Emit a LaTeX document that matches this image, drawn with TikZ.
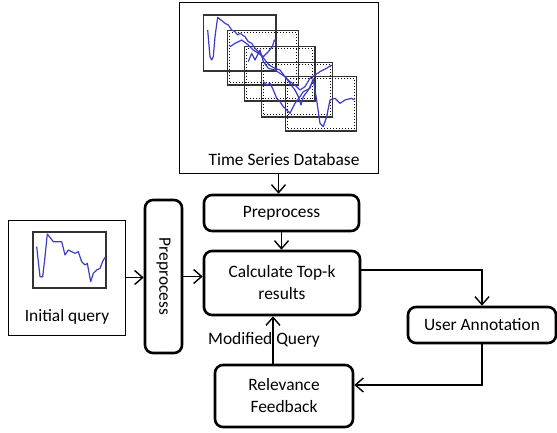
\documentclass[tikz,border=0pt]{standalone}
\usepackage{fontspec}
\setmainfont{Carlito}
\usepackage{graphicx}
\usetikzlibrary{arrows.meta}

\definecolor{seriesblue}{RGB}{60,60,200}

\tikzset{
  box/.style={draw, line width=2.6pt, rounded corners=8pt, align=center, inner sep=2pt},
  frame/.style={draw, line width=1pt},
  arr/.style={line width=1.4pt, -{Straight Barb[length=8pt, width=14pt]}},
  chart/.style={draw, black!80, line width=1.4pt},
  curve/.style={seriesblue, line width=1.2pt, line join=round},
}

\begin{document}
\begin{tikzpicture}[x=1pt, y=-1pt, font=\fontsize{17.4}{22}\selectfont]

	\useasboundingbox (0,0) rectangle (557,432);

	% database
	\node[frame, minimum width=199pt, minimum height=171pt] (db) at (278.5,87.5) {};
	\node (dbtext) at (284,160) {Time Series Database};
	\begin{scope}[shift={(195pt,-10pt)}, x=0.3333pt, y=-0.3333pt]
	    \draw[chart] (25,15) rectangle (243,183);
	    \foreach \x/\y in {98/62, 148/110, 200/158, 272/200} {
	        \draw[chart] (\x,\y) rectangle ++(212,163);
	        \draw[dotted, line width=1pt] (\x+6,\y+6) rectangle ++(200,151);
	    }
	    \draw[curve] (38,60)--(45,140)--(50,150)--(55,140)--(60,80)--(68,22)--(78,30)--(90,40)--(100,45)--(110,60)--(120,65)--(128,75)--(135,70)--(150,80)--(160,95)--(170,100)--(180,115)--(195,130)--(210,150)--(222,165)--(240,175)--(255,180)--(270,200)--(285,220)--(300,240)--(310,260)--(318,285)--(325,260)--(340,240)--(355,210)--(365,270)--(375,340)--(385,350)--(395,320)--(405,270)--(420,265)--(435,280)--(450,270)--(470,265)--(478,270);
	    \draw[curve] (105,110)--(120,100)--(140,90)--(160,105)--(175,120)--(190,130)--(205,140)--(220,125)--(232,110)--(238,90)--(243,95);
	    \draw[curve] (160,155)--(170,130)--(180,150)--(195,120)--(205,155)--(220,175)--(240,180)--(255,190)--(270,200)--(285,215)--(300,225)--(315,240)--(330,230)--(345,205)--(360,195)--(375,185)--(395,175)--(410,165);
	    \draw[curve] (205,215)--(215,225)--(225,220)--(235,240)--(245,265)--(255,275)--(265,290)--(285,310)--(300,280)--(315,260)--(325,245)--(345,235)--(355,205);
	\end{scope}

	% initial query
	\node[frame, minimum width=117pt, minimum height=115pt] (iq) at (66.5,277.5) {};
	\node (iqtext) at (67,317) {Initial query};
	\draw[chart] (33,232) rectangle (106,288);
	\draw[curve] (36.7,246.7)--(40,276.7)--(42.7,276.7)--(45,256.7)--(47.3,234)--(53.3,241.7)--(61.7,241.7)--(65,255)--(68.3,250)--(71.7,251.7)--(75,253.3)--(78.3,251.7)--(81.7,261.7)--(85,265)--(87.3,263.3)--(90.7,281.7)--(93.3,273.3)--(96.7,270)--(100,268.3)--(103.3,260)--(105.3,257.3);

	% boxes
	\node[box, minimum width=155pt, minimum height=36pt] (pre1) at (281.5,213) {Preprocess};
	\node[box, minimum width=37pt, minimum height=153pt] (pre2) at (163.5,276.5) {\rotatebox{-90}{Preprocess}};
	\node[box, minimum width=156pt, minimum height=64pt] (calc) at (282,283) {Calculate Top-k\\results};
	\node[box, minimum width=148pt, minimum height=36pt] (ua) at (482,325) {User Annotation};
	\node[box, minimum width=138pt, minimum height=62pt] (rf) at (284,396) {Relevance\\Feedback};

	% connectors
	\draw[arr] (db.south) -- (db.south |- pre1.north);
	\draw[arr] (pre1.south) -- (pre1.south |- calc.north);
	\draw[arr] (iq.east) -- (iq.east -| pre2.west);
	\draw[arr] (pre2.east) -- (pre2.east -| calc.west);
	\draw[arr] ([yshift=13pt]calc.east) -| (ua.north);
	\draw[arr] (ua.south) |- ([yshift=11pt]rf.east);
	\draw[arr] ([xshift=-11pt]rf.north) -- ([xshift=-11pt]rf.north |- calc.south)
	    node[midway, xshift=-9pt] (mq) {Modified Query};

\end{tikzpicture}
\end{document}
